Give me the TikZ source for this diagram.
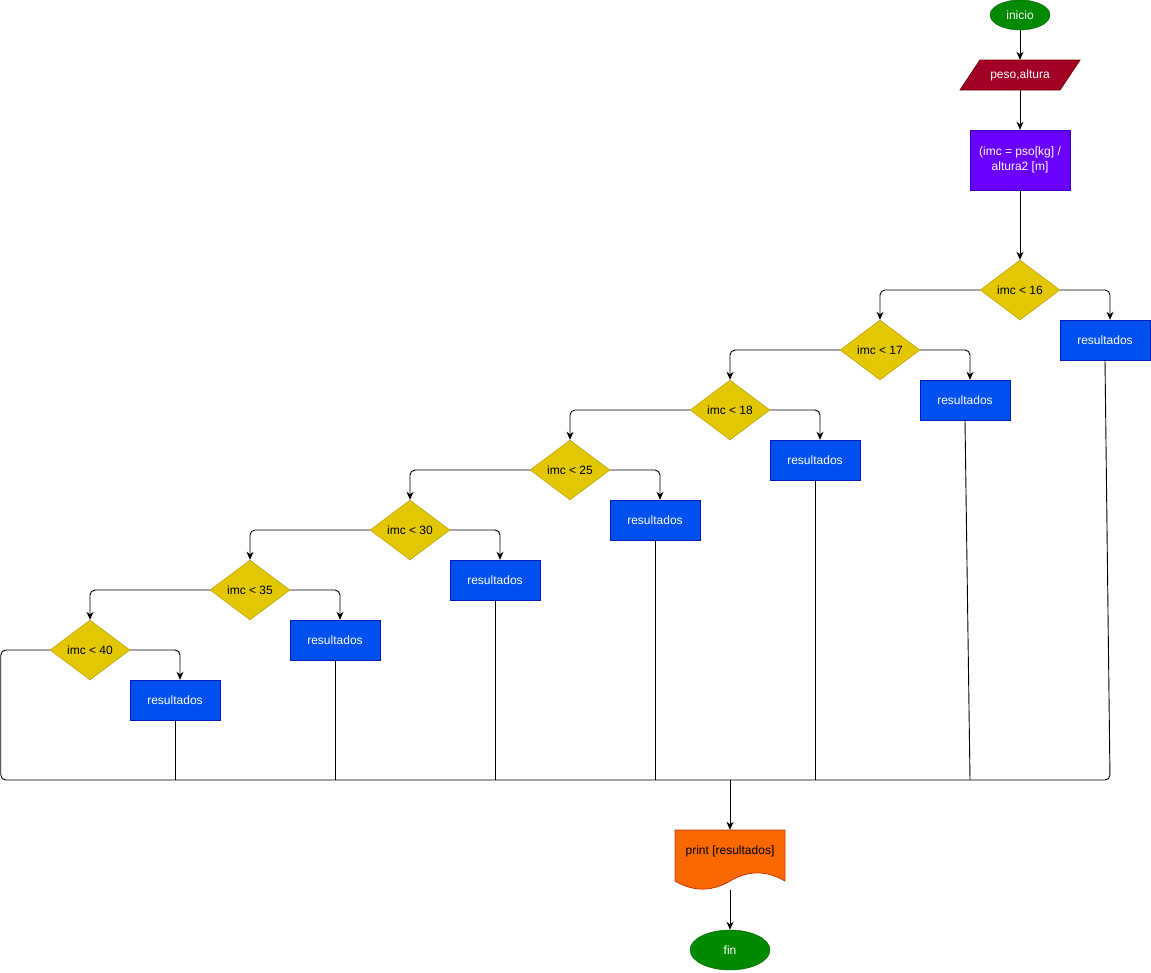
\documentclass[tikz,border=0pt]{standalone}
\usepackage{fontspec}
\setmainfont{Liberation Sans}
\usetikzlibrary{arrows.meta,shapes.geometric,calc}
\definecolor{termfill}{HTML}{008A00}
\definecolor{termdraw}{HTML}{005700}
\definecolor{iofill}{HTML}{A20025}
\definecolor{iodraw}{HTML}{6F0000}
\definecolor{procfill}{HTML}{6A00FF}
\definecolor{procdraw}{HTML}{3700CC}
\definecolor{decfill}{HTML}{E3C800}
\definecolor{decdraw}{HTML}{B09500}
\definecolor{resfill}{HTML}{0050EF}
\definecolor{resdraw}{HTML}{001DBC}
\definecolor{docfill}{HTML}{FA6800}
\definecolor{docdraw}{HTML}{C73500}
\begin{document}
\begin{tikzpicture}[x=1pt,y=-1pt,
  font=\fontsize{12}{14.4}\selectfont,
  term/.style={ellipse,fill=termfill,draw=termdraw,text=white,inner sep=0pt},
  proc/.style={rectangle,fill=procfill,draw=procdraw,text=white,align=center,minimum width=100pt,minimum height=60pt,inner sep=0pt},
  decis/.style={diamond,fill=decfill,draw=decdraw,text=black,inner sep=0pt,minimum width=80pt,minimum height=60pt,shape aspect=1.333},
  resbox/.style={rectangle,fill=resfill,draw=resdraw,text=white,minimum width=90pt,minimum height=40pt,inner sep=0pt},
  plain/.style={rectangle,inner sep=0pt},
  ln/.style={draw=black,line width=0.9pt},
  arr/.style={ln,-{Stealth[length=8pt,width=7pt,inset=2.5pt]}},
  rcorner/.style={rounded corners=5pt}
]
\useasboundingbox (0,0) rectangle (1151,972);

% terminals and process
\node[term,minimum width=60pt,minimum height=30pt] (inicio) at (1020,15) {inicio};
\fill[iofill,draw=iodraw,line width=0.8pt] (980,60) -- (1080,60) -- (1060,90) -- (960,90) -- cycle;
\node[plain,minimum width=100pt,minimum height=30pt,text=white] (peso) at (1020,75) {peso,altura};
\node[proc] (imc) at (1020,160) {(imc = pso[kg] /\\altura2 [m]};

% decisions
\node[decis] (d16) at (1020,290) {imc < 16};
\node[decis] (d17) at (880,350) {imc < 17};
\node[decis] (d18) at (730,410) {imc < 18};
\node[decis] (d25) at (570,470) {imc < 25};
\node[decis] (d30) at (410,530) {imc < 30};
\node[decis] (d35) at (250,590) {imc < 35};
\node[decis] (d40) at (90,650) {imc < 40};

% result boxes
\node[resbox] (r16) at (1105,340) {resultados};
\node[resbox] (r17) at (965,400) {resultados};
\node[resbox] (r18) at (815,460) {resultados};
\node[resbox] (r25) at (655,520) {resultados};
\node[resbox] (r30) at (495,580) {resultados};
\node[resbox] (r35) at (335,640) {resultados};
\node[resbox] (r40) at (175,700) {resultados};

% document
\fill[docfill,draw=docdraw,line width=0.8pt] (675,830) -- (785,830) -- (785,881)
  .. controls (766.67,870.2) and (748.33,870.2) .. (730,881)
  .. controls (711.67,891.8) and (693.33,891.8) .. (675,881) -- cycle;
\node[plain,minimum width=110pt,minimum height=60pt] (doc) at (730,860) {};
\node[plain,text=black] (doctext) at (730,851) {print [resultados]};

\node[term,minimum width=80pt,minimum height=40pt] (fin) at (730,950) {fin};

% coordinates for the collecting line
\coordinate (bl) at (0.8,780);
\coordinate (br) at (1110,780);
\coordinate (j17) at (970,780);
\coordinate (jm) at (730,780);

% main flow
\draw[arr] (inicio) -- (peso);
\draw[arr] (peso) -- (imc);
\draw[arr] (imc) -- (d16);

% no branches
\draw[arr,rcorner] (d16.west) -| (d17.north);
\draw[arr,rcorner] (d17.west) -| (d18.north);
\draw[arr,rcorner] (d18.west) -| (d25.north);
\draw[arr,rcorner] (d25.west) -| (d30.north);
\draw[arr,rcorner] (d30.west) -| (d35.north);
\draw[arr,rcorner] (d35.west) -| (d40.north);

% yes branches
\draw[arr,rcorner] (d16.east) -| ([xshift=5pt]r16.north);
\draw[arr,rcorner] (d17.east) -| ([xshift=5pt]r17.north);
\draw[arr,rcorner] (d18.east) -| ([xshift=5pt]r18.north);
\draw[arr,rcorner] (d25.east) -| ([xshift=5pt]r25.north);
\draw[arr,rcorner] (d30.east) -| ([xshift=5pt]r30.north);
\draw[arr,rcorner] (d35.east) -| ([xshift=5pt]r35.north);
\draw[arr,rcorner] (d40.east) -| ([xshift=5pt]r40.north);

% collecting line
\draw[ln,rcorner] (d40.west) -| (bl) -- (br) -- (r16.south);
\draw[ln] (r17.south) -- (j17);
\draw[ln] (r18.south) -- (r18.south |- bl);
\draw[ln] (r25.south) -- (r25.south |- bl);
\draw[ln] (r30.south) -- (r30.south |- bl);
\draw[ln] (r35.south) -- (r35.south |- bl);
\draw[ln] (r40.south) -- (r40.south |- bl);

\draw[arr] (jm) -- (doc.north);
\draw[arr] (doc.south) -- (fin.north);
\end{tikzpicture}
\end{document}
